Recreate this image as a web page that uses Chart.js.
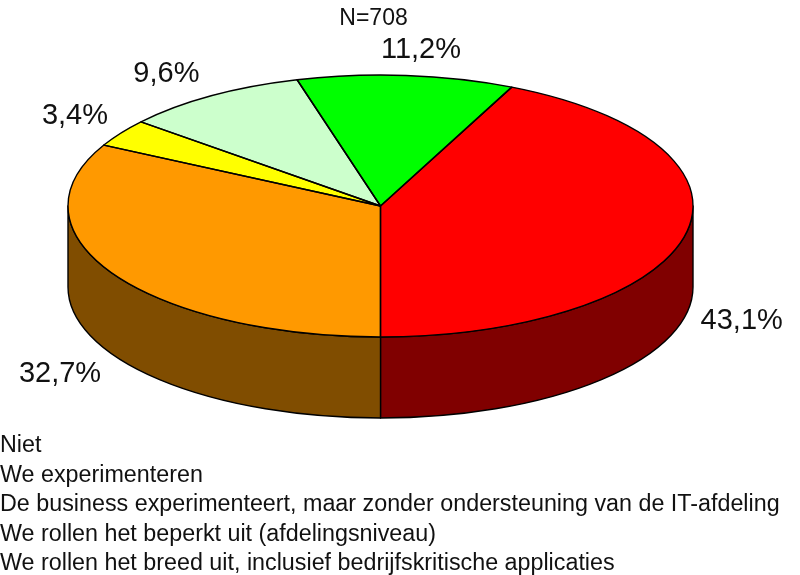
<!DOCTYPE html>
<html><head><meta charset="utf-8">
<style>html,body{margin:0;padding:0;background:#fff}#w{width:800px;height:575px;position:relative}</style>
<script src="https://cdn.jsdelivr.net/npm/chart.js@4"></script>
</head><body><div id="w"><canvas id="c"></canvas></div>
<script>
const categories = ["Niet","We experimenteren","De business experimenteert, maar zonder ondersteuning van de IT-afdeling","We rollen het beperkt uit (afdelingsniveau)","We rollen het breed uit, inclusief bedrijfskritische applicaties"];
const values = [43.1,32.7,3.4,9.6,11.2];
const valueLabels = ["43,1%","32,7%","3,4%","9,6%","11,2%"];
const topColors = ["#ff0000","#ff9900","#ffff00","#ccffcc","#00ff00"];
const sideColors = ["#800000","#804d00","#808000","#668066","#008000"];
const subtitle = "N=708";

// drawing geometry
const RX = 312.5, RY = 131, DEPTH = 81;
const LABEL_OFFSETS = [[56,6],[-53,19],[-46,-17],[-45,-22],[15,-25]];
const FONT = "Liberation Sans, Arial, sans-serif";

const pie3d = {
  id:'pie3d',
  beforeDatasetsDraw(chart){
    const ctx = chart.ctx, arcs = chart.getDatasetMeta(0).data;
    const cx = arcs[0].x, cy = arcs[0].y, r = arcs[0].outerRadius;
    ctx.save();
    ctx.strokeStyle = '#000'; ctx.lineWidth = 1.4; ctx.lineJoin='round';
    arcs.forEach((a,i)=>{
      const s = Math.max(a.startAngle,0), e = Math.min(a.endAngle,Math.PI);
      if (e <= s) return;
      ctx.beginPath();
      ctx.ellipse(cx,cy,RX,RY,0,s,e);
      ctx.ellipse(cx,cy+DEPTH,RX,RY,0,e,s,true);
      ctx.closePath();
      ctx.fillStyle = sideColors[i];
      ctx.fill(); ctx.stroke();
    });
    ctx.restore();
    ctx.save();
    ctx.translate(cx,cy); ctx.scale(RX/r,RY/r); ctx.translate(-cx,-cy);
  },
  afterDatasetsDraw(chart){
    chart.ctx.restore();
    const ctx = chart.ctx, arcs = chart.getDatasetMeta(0).data;
    const cx = arcs[0].x, cy = arcs[0].y;
    ctx.save();
    ctx.strokeStyle = '#000'; ctx.lineWidth = 1.4; ctx.lineJoin='round';
    arcs.forEach(a=>{
      ctx.beginPath();
      ctx.moveTo(cx,cy);
      ctx.ellipse(cx,cy,RX,RY,0,a.startAngle,a.endAngle);
      ctx.closePath();
      ctx.stroke();
    });
    ctx.fillStyle = '#111'; ctx.textBaseline='middle'; ctx.textAlign='center';
    ctx.font = '29px '+FONT;
    arcs.forEach((a,i)=>{
      const m = (a.startAngle+a.endAngle)/2;
      const lower = Math.sin(m) > 0 ? DEPTH : 0;
      const x = cx+RX*Math.cos(m)+LABEL_OFFSETS[i][0];
      const y = cy+RY*Math.sin(m)+lower+LABEL_OFFSETS[i][1];
      ctx.fillText(valueLabels[i],x,y);
    });
    ctx.font = '23px '+FONT;
    ctx.fillText(subtitle,373.5,19);
    ctx.textAlign='left'; ctx.font = '23.3px '+FONT;
    categories.forEach((t,i)=>ctx.fillText(t,0,446+i*29.5));
    ctx.restore();
  }
};

new Chart(document.getElementById('c'),{
  type:'pie',
  data:{labels:categories,datasets:[{data:values,backgroundColor:topColors,borderWidth:0,clip:false}]},
  options:{
    responsive:true,maintainAspectRatio:false,animation:false,
    rotation:180-values[0]*3.6,
    layout:{padding:{left:0,right:39,top:0,bottom:163}},
    plugins:{legend:{display:false},tooltip:{enabled:false}}
  },
  plugins:[pie3d]
});
</script></body></html>
